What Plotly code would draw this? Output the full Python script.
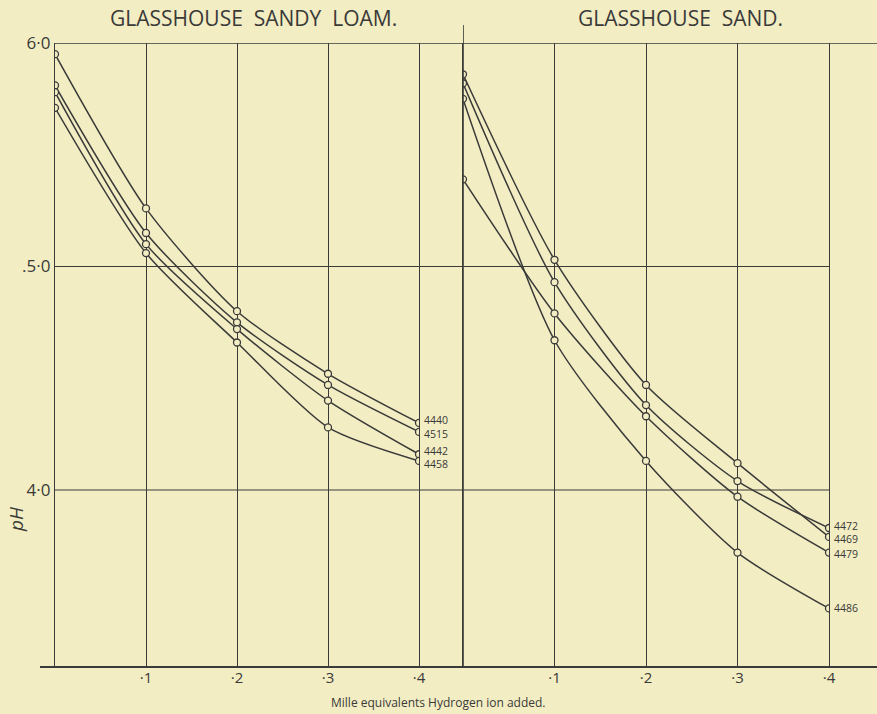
import plotly.graph_objects as go

# ---------------- data (pH values) ----------------
acid_added = [0.0, 0.1, 0.2, 0.3, 0.4]

loam_names = ["4440", "4515", "4442", "4458"]
loam_4440 = [5.95, 5.26, 4.80, 4.52, 4.30]
loam_4515 = [5.81, 5.15, 4.75, 4.47, 4.26]
loam_4442 = [5.78, 5.10, 4.72, 4.40, 4.16]
loam_4458 = [5.71, 5.06, 4.66, 4.28, 4.13]

sand_names = ["4469", "4472", "4479", "4486"]
sand_4469 = [5.86, 5.03, 4.47, 4.12, 3.79]
sand_4472 = [5.82, 4.93, 4.38, 4.04, 3.83]
sand_4479 = [5.39, 4.79, 4.33, 3.97, 3.72]
sand_4486 = [5.75, 4.67, 4.13, 3.72, 3.47]

x_tickvals = [0.1, 0.2, 0.3, 0.4]
x_ticktext = ["·1", "·2", "·3", "·4"]
y_tickvals = [4.0, 5.0, 6.0]
y_ticktext = ["4·0", ".5·0", "6·0"]

panel_titles = ["GLASSHOUSE SANDY LOAM.", "GLASSHOUSE SAND."]
x_title = "Mille equivalents Hydrogen ion added."
y_title = "pH"

# ---------------- style ----------------
BG = "#f3edc4"
INK = "#3a3a38"
FONT = "Open Sans"

W, H = 877, 714
L, R, T, B = 55, 48, 43, 47
plot_w = W - L - R
plot_h = H - T - B
left_dom = [0, (419 - L) / plot_w]
right_dom = [(463 - L) / plot_w, 1]
y_range = [3.208, 6.0]


def px_x(px):
    return (px - L) / plot_w


def px_y(py):  # py measured from top of the picture
    return 1 - (py - T) / plot_h


def spaced(t):
    return t.replace(" ", "&nbsp;&nbsp;")


fig = go.Figure()


def add_series(xaxis, yaxis, values):
    fig.add_trace(go.Scatter(
        x=acid_added, y=values, xaxis=xaxis, yaxis=yaxis,
        mode="lines+markers",
        line=dict(color=INK, width=1.5, shape="spline", smoothing=0.7),
        marker=dict(symbol="circle", size=7, color=BG,
                    line=dict(color=INK, width=1.3)),
        showlegend=False, hoverinfo="x+y"))


for vals in [loam_4440, loam_4515, loam_4442, loam_4458]:
    add_series("x", "y", vals)
for vals in [sand_4469, sand_4472, sand_4479, sand_4486]:
    add_series("x2", "y2", vals)

axis_common = dict(range=[0, 0.4], tickvals=x_tickvals, ticktext=x_ticktext,
                   showgrid=True, gridcolor=INK, gridwidth=1.2,
                   zeroline=False, showline=False, ticks="",
                   tickfont=dict(family=FONT, size=15, color=INK))
yaxis_common = dict(range=y_range, tickvals=y_tickvals, showgrid=False,
                    zeroline=False, showline=True, linecolor=INK, linewidth=1.3,
                    mirror=True, ticks="")

fig.update_layout(
    width=W, height=H,
    margin=dict(l=L, r=R, t=T, b=B),
    paper_bgcolor=BG, plot_bgcolor=BG,
    xaxis=dict(domain=left_dom, anchor="y", **axis_common),
    xaxis2=dict(domain=right_dom, anchor="y2", **axis_common),
    yaxis=dict(domain=[0, 1], anchor="x", ticktext=y_ticktext,
               tickfont=dict(family=FONT, size=17, color=INK), **yaxis_common),
    yaxis2=dict(domain=[0, 1], anchor="x2", showticklabels=False, **yaxis_common),
    font=dict(family=FONT, color=INK),
)

shapes = []
for yv in [4.0, 5.0]:
    shapes.append(dict(type="line", xref="paper", yref="y", x0=0, x1=1,
                       y0=yv, y1=yv, line=dict(color=INK, width=1.2)))
shapes.append(dict(type="line", xref="paper", yref="y", x0=0, x1=px_x(W),
                   y0=6.0, y1=6.0, line=dict(color=INK, width=1.4)))
shapes.append(dict(type="line", xref="paper", yref="paper", x0=px_x(40),
                   x1=px_x(W), y0=0, y1=0, line=dict(color=INK, width=2)))
shapes.append(dict(type="line", xref="x2", yref="paper", x0=0, x1=0,
                   y0=0, y1=px_y(25), line=dict(color=INK, width=1.6)))
fig.update_layout(shapes=shapes)

ann = []
label_shift_loam = [3, -2, 3, -3]
for name, vals, ys in zip(loam_names, [loam_4440, loam_4515, loam_4442, loam_4458],
                          label_shift_loam):
    ann.append(dict(x=acid_added[-1], y=vals[-1], xref="x", yref="y", text=name,
                    showarrow=False, xanchor="left", yanchor="middle", xshift=3,
                    yshift=ys, font=dict(family=FONT, size=10.5, color=INK)))
label_shift_sand = [-2, 2, -1, 0]
for name, vals, ys in zip(sand_names, [sand_4469, sand_4472, sand_4479, sand_4486],
                          label_shift_sand):
    ann.append(dict(x=acid_added[-1], y=vals[-1], xref="x2", yref="y2", text=name,
                    showarrow=False, xanchor="left", yanchor="middle", xshift=3,
                    yshift=ys, font=dict(family=FONT, size=10.5, color=INK)))

ann.append(dict(x=px_x(253), y=px_y(18), xref="paper", yref="paper",
                text=spaced(panel_titles[0]), showarrow=False, xanchor="center",
                yanchor="middle", font=dict(family=FONT, size=21, color=INK)))
ann.append(dict(x=px_x(680), y=px_y(18), xref="paper", yref="paper",
                text=spaced(panel_titles[1]), showarrow=False, xanchor="center",
                yanchor="middle", font=dict(family=FONT, size=21, color=INK)))
ann.append(dict(x=px_x(438), y=px_y(702), xref="paper", yref="paper",
                text=x_title, showarrow=False, xanchor="center", yanchor="middle",
                font=dict(family=FONT, size=12, color=INK)))
ann.append(dict(x=px_x(16), y=px_y(520), xref="paper", yref="paper",
                text="<i>" + y_title + "</i>", showarrow=False, textangle=-90,
                xanchor="center", yanchor="middle",
                font=dict(family=FONT, size=19, color=INK)))
fig.update_layout(annotations=ann)

fig.write_html("out.html",
               config={"displayModeBar": False},
               post_script="document.body.style.margin='0';"
                           "document.body.style.padding='0';"
                           "document.body.style.background='" + BG + "';")
